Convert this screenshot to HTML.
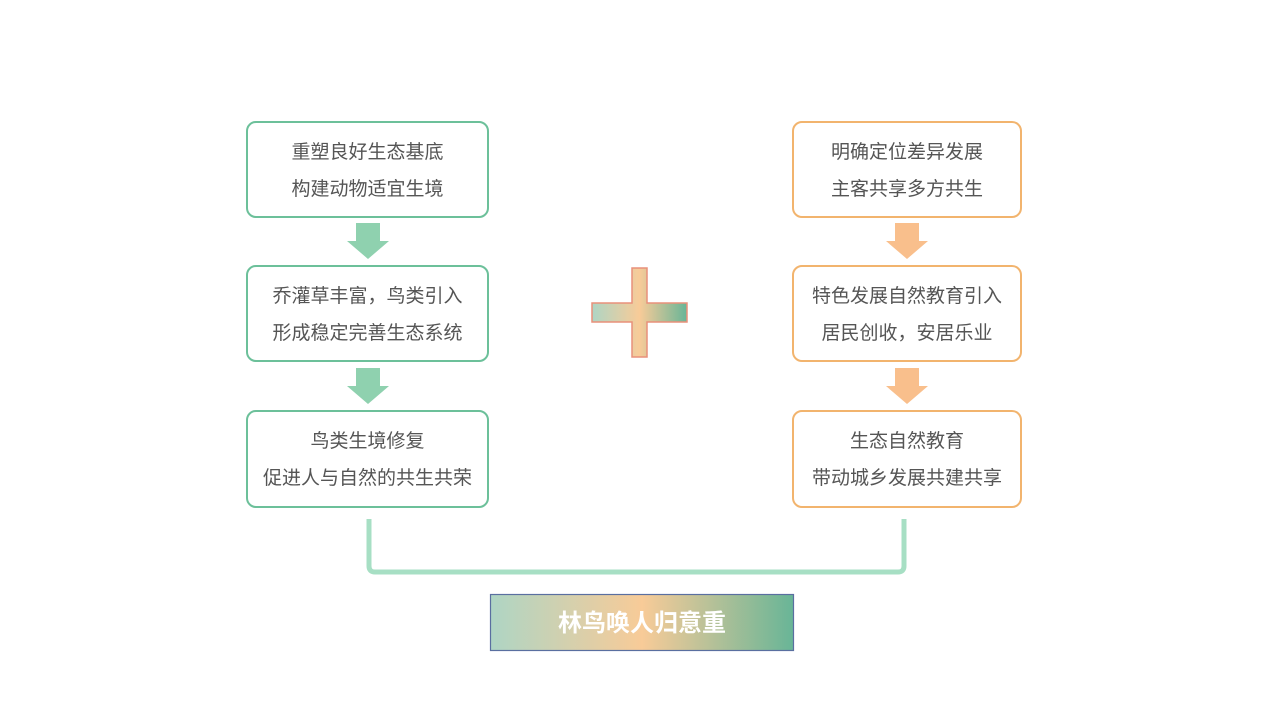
<!DOCTYPE html>
<html><head><meta charset="utf-8"><style>
body{margin:0;width:1267px;height:713px;background:#fff;position:relative;overflow:hidden;font-family:"Liberation Sans","Noto Sans CJK SC",sans-serif}
.b{position:absolute;box-sizing:border-box;border:2px solid #6cc09a;border-radius:10px;display:flex;flex-direction:column;justify-content:center;align-items:center;text-align:center;color:#555;font-size:19px;line-height:37px;padding-top:2px}
.o{border-color:#f2b46e}
.t{position:absolute}
</style></head><body>
<div class="b" style="left:246px;top:121px;width:243px;height:97px">重塑良好生态基底<br>构建动物适宜生境</div>
<div class="b" style="left:246px;top:265px;width:243px;height:97px">乔灌草丰富，鸟类引入<br>形成稳定完善生态系统</div>
<div class="b" style="left:246px;top:410px;width:243px;height:98px">鸟类生境修复<br>促进人与自然的共生共荣</div>
<div class="b o" style="left:792px;top:121px;width:230px;height:97px">明确定位差异发展<br>主客共享多方共生</div>
<div class="b o" style="left:792px;top:265px;width:230px;height:97px">特色发展自然教育引入<br>居民创收，安居乐业</div>
<div class="b o" style="left:792px;top:410px;width:230px;height:98px">生态自然教育<br>带动城乡发展共建共享</div>
<svg class="t" style="left:0;top:0" width="1267" height="713">
<defs><linearGradient id="g" x1="0" x2="1"><stop offset="0" stop-color="#aed5c4"/><stop offset=".5" stop-color="#f8cb98"/><stop offset="1" stop-color="#68b597"/></linearGradient></defs>
<polygon points="356,223 380,223 380,241 389,241 368,259 347,241 356,241" fill="#8fd1af"/>
<polygon points="356,368 380,368 380,386 389,386 368,404 347,386 356,386" fill="#8fd1af"/>
<polygon points="895,223 919,223 919,241 928,241 907,259 886,241 895,241" fill="#f9bf8c"/>
<polygon points="895,368 919,368 919,386 928,386 907,404 886,386 895,386" fill="#f9bf8c"/>
<polygon points="632,268 647,268 647,303 687,303 687,322 647,322 647,357 632,357 632,322 592,322 592,303 632,303" fill="url(#g)" stroke="#e9907a" stroke-width="1.5"/>
<path d="M369,519 L369,566 Q369,572 375,572 L898,572 Q904,572 904,566 L904,519" fill="none" stroke="#a7dfc4" stroke-width="5"/>
<rect x="490.5" y="594.5" width="303" height="56" fill="url(#g)" stroke="#5a6fa0" stroke-width="1.2"/>
<text x="642" y="631" text-anchor="middle" fill="#fff" font-size="24" font-weight="bold" font-family="Liberation Sans,Noto Sans CJK SC,sans-serif">林鸟唤人归意重</text>
</svg>
</body></html>
